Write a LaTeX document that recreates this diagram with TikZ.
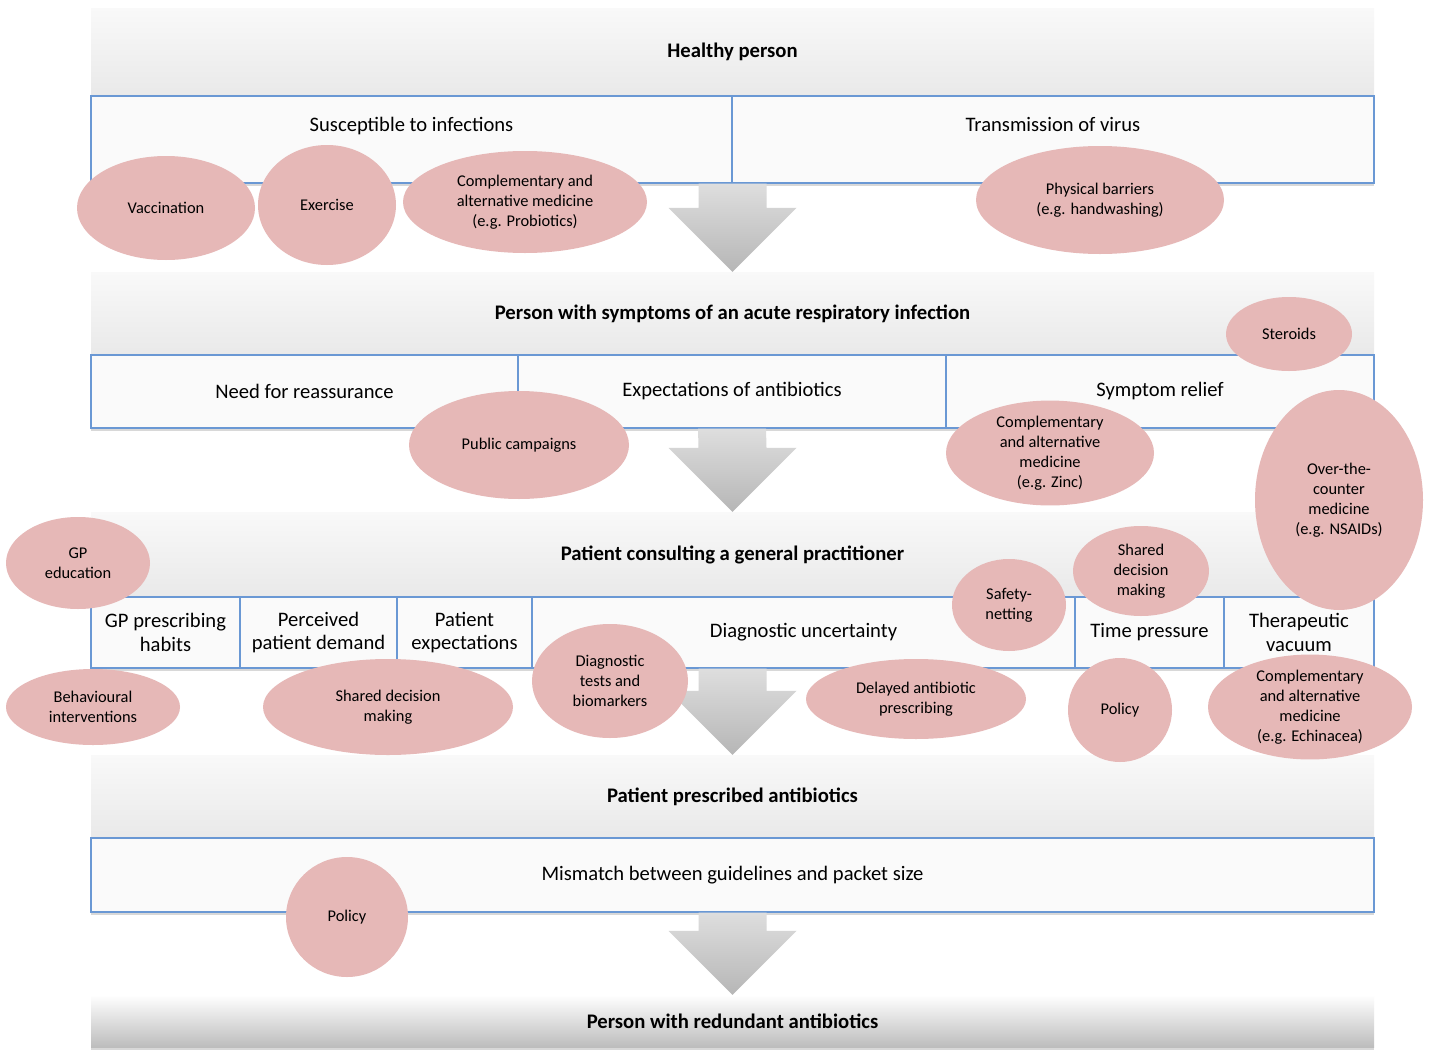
\documentclass[tikz,border=0pt]{standalone}
\usepackage{fontspec}
\setmainfont{Carlito}
\usetikzlibrary{calc,positioning,shapes.geometric,shadows}
\definecolor{PillRose}{HTML}{E6B8B7}
\definecolor{CellEdge}{HTML}{6A98D4}
\definecolor{BandTop}{HTML}{F9F9F9}
\definecolor{BandMid}{HTML}{F6F6F6}
\definecolor{BandBottom}{HTML}{E9E9E9}
\definecolor{ArrowLight}{HTML}{DEDEDE}
\definecolor{ArrowDark}{HTML}{B6B6B6}
\newcommand{\flowarrow}[2]{%
  \shade[top color=ArrowLight, bottom color=ArrowDark]
    ($#1+(-34,0)$) -- ($#1+(34,0)$) -- ($#2+(34,-64)$) -- ($#2+(64,-64)$)
    -- #2 -- ($#2+(-64,-64)$) -- ($#2+(-34,-64)$) -- cycle;}

\begin{document}
\begin{tikzpicture}[x=1pt, y=-1pt,
    band/.style={minimum width=1283, inner sep=0, top color=BandTop, middle color=BandMid,
      bottom color=BandBottom, font=\fontsize{20.7}{24}\selectfont\bfseries},
    lastband/.style={band, top color=white, middle color=black!7, bottom color=black!26,
      drop shadow={shadow xshift=0pt, shadow yshift=-3pt, opacity=.3}},
    cell/.style={draw=CellEdge, line width=1.2pt, fill=white!98!black, inner sep=0, align=center,
      font=\fontsize{20.6}{23.5}\selectfont},
    pill/.style={ellipse, fill=PillRose, inner sep=0, align=center,
      font=\fontsize{16.4}{20}\selectfont}]
  \useasboundingbox[fill=white] (0,0) rectangle (1430,1060);

  \node[band, minimum height=88] (h1) at (732.5,52) {Healthy person};
  \node[band, minimum height=83] (h2) at (732.5,313.5) {Person with symptoms of an acute respiratory infection};
  \node[band, minimum height=85] (h3) at (732.5,554.5) {Patient consulting a general practitioner};
  \node[band, minimum height=83] (h4) at (732.5,796.5) {Patient prescribed antibiotics};
  \node[lastband, minimum height=52] (h5) at (732.5,1021) {Person with redundant antibiotics};

  \begin{scope}[every node/.append style={drop shadow={shadow xshift=0pt, shadow yshift=-3pt, opacity=.3}}]
    \node[cell, minimum width=641, minimum height=87] (s1) at (411.5,139.5) {\raisebox{30pt}{Susceptible to infections}};
    \node[cell, minimum width=642, minimum height=87] (s2) at (1053,139.5) {\raisebox{30pt}{Transmission of virus}};

    \node[cell, minimum width=427, minimum height=73] (n1) at (304.5,391.5) {Need for reassurance};
    \node[cell, minimum width=428, minimum height=73] (n2) at (732,391.5) {Expectations of antibiotics};
    \node[cell, minimum width=428, minimum height=73] (n3) at (1160,391.5) {Symptom relief};

    \node[cell, minimum width=149, minimum height=71] (g1) at (165.5,632.5) {GP prescribing\\habits};
    \node[cell, minimum width=157, minimum height=71] (g2) at (318.5,632.5) {Perceived\\patient demand};
    \node[cell, minimum width=135, minimum height=71] (g3) at (464.5,632.5) {Patient\\expectations};
    \node[cell, minimum width=543, minimum height=71] (g4) at (803.5,632.5) {Diagnostic uncertainty};
    \node[cell, minimum width=149, minimum height=71] (g5) at (1149.5,632.5) {Time pressure};
    \node[cell, minimum width=150, minimum height=71] (g6) at (1299,632.5) {Therapeutic\\vacuum};

    \node[cell, minimum width=1283, minimum height=74] (m1) at (732.5,875) {Mismatch between guidelines and packet size};
  \end{scope}

  \flowarrow{(s1.south east)}{(h2.north)}
  \flowarrow{(n2.south)}{(h3.north)}
  \flowarrow{(h3.center |- g4.south)}{(h4.north)}
  \flowarrow{(m1.south)}{(h5.north)}

  \node[pill, minimum width=178, minimum height=104] (vac) at (166,208) {Vaccination};
  \node[pill, minimum width=138, minimum height=120] (exe) at (327,205) {Exercise};
  \node[pill, minimum width=244, minimum height=102] (cam1) at (525,202) {Complementary and\\alternative medicine\\(e.g. Probiotics)};
  \node[pill, minimum width=248, minimum height=108] (bar) at (1100,200) {Physical barriers\\(e.g. handwashing)};

  \node[pill, minimum width=126, minimum height=74] (ste) at (1289,334) {Steroids};
  \node[pill, minimum width=220, minimum height=108] (pub) at (519,445) {Public campaigns};
  \node[pill, minimum width=208, minimum height=90] (cam2) at (1050,453) {Complementary\\and alternative\\medicine\\(e.g. Zinc)};
  \node[pill, minimum width=168, minimum height=220] (otc) at (1339,500) {Over-the-\\counter\\medicine\\(e.g. NSAIDs)};

  \node[pill, minimum width=144, minimum height=92] (gpe) at (78,563) {GP\\education};
  \node[pill, minimum width=136, minimum height=90] (sdm1) at (1141,571) {Shared\\decision\\making};
  \node[pill, minimum width=114, minimum height=92] (saf) at (1009,605) {Safety-\\netting};
  \node[pill, minimum width=174, minimum height=76] (beh) at (93,707) {Behavioural\\interventions};
  \node[pill, minimum width=250, minimum height=96] (sdm2) at (388,707) {Shared decision\\making};
  \node[pill, minimum width=156, minimum height=114] (dia) at (610,681) {Diagnostic\\tests and\\biomarkers};
  \node[pill, minimum width=220, minimum height=80] (del) at (916,699) {Delayed antibiotic\\prescribing};
  \node[pill, minimum width=104, minimum height=104] (pol1) at (1120,710) {Policy};
  \node[pill, minimum width=204, minimum height=104] (cam3) at (1310,707) {Complementary\\and alternative\\medicine\\(e.g. Echinacea)};

  \node[pill, minimum width=122, minimum height=120] (pol2) at (347,917) {Policy};
\end{tikzpicture}
\end{document}
